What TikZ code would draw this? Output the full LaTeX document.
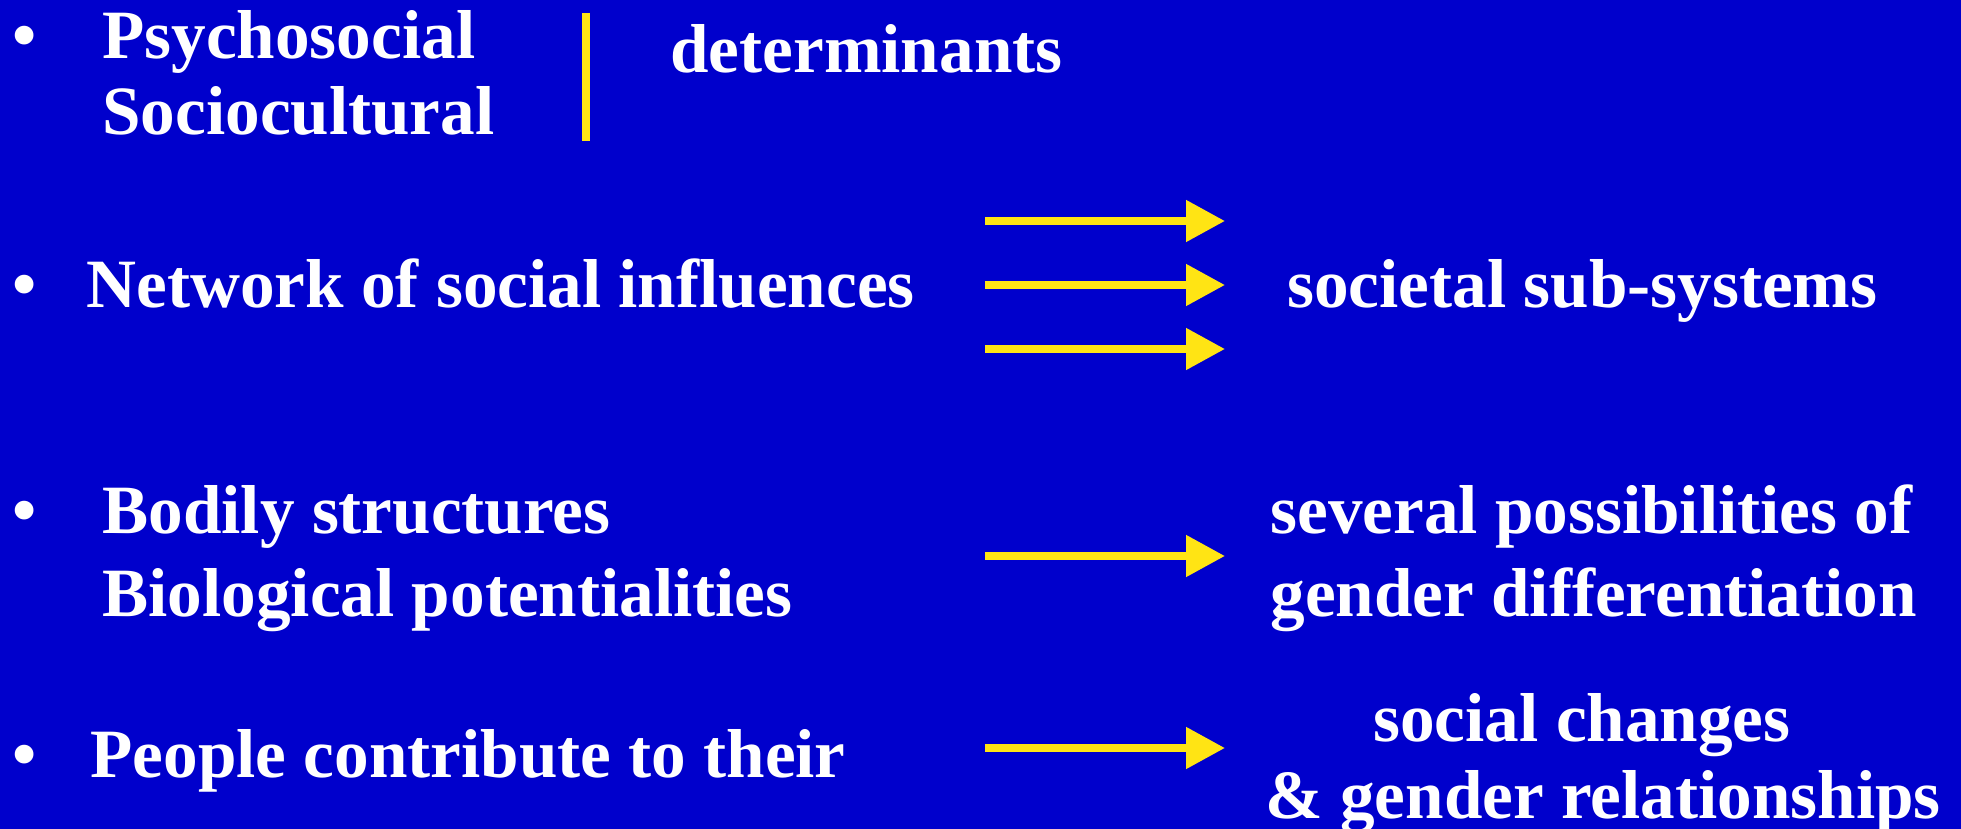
\documentclass[tikz,border=0pt]{standalone}
\usepackage{fontspec}
\setmainfont{Liberation Serif}
\usetikzlibrary{arrows.meta}

\definecolor{slideblue}{RGB}{0,0,204}
\definecolor{slideyellow}{RGB}{255,228,20}

\tikzset{
  txt/.style={text=white, font=\bfseries\fontsize{34.6}{39}\selectfont,
    inner sep=0pt, anchor=base west},
  bul/.style={txt},
  yarrow/.style={slideyellow, line width=4pt,
    -{Triangle[length=19.5pt,width=20pt]}}
}

\begin{document}
\begin{tikzpicture}[x=0.5pt,y=-0.5pt]
			% background
			\fill [slideblue] (0,0) rectangle (1961,829);
			\useasboundingbox (0,0) rectangle (1961,829);

			% bullets
			\node[bul] (b1) at (12,59) {•};
			\node[bul] (b2) at (12,307) {•};
			\node[bul] (b3) at (12,533) {•};
			\node[bul] (b4) at (12,777) {•};

			% first item
			\node[txt] (psycho) at (102,59) {Psychosocial};
			\node[txt] (socio) at (102,134) {Sociocultural};
			\draw [slideyellow, line width=4pt] (585.5,13) -- (585.5,141) ;
			\node[txt] (determ) at (670,73) {determinants};

			% second item
			\node[txt] (network) at (86,307) {Network of social influences};
			\node[txt] (subsys) at (1287,307) {societal sub-systems};

			% third item
			\node[txt] (bodily) at (102,533) {Bodily structures};
			\node[txt] (biolog) at (102,616) {Biological potentialities};
			\node[txt] (several) at (1270,533) {several possibilities of};
			\node[txt] (gendiff) at (1270,616) {gender differentiation};

			% fourth item
			\node[txt] (people) at (90,777) {People contribute to their};
			\node[txt] (changes) at (1373,741) {social changes};
			\node[txt] (relations) at (1265,818) {\& gender relationships};

			% ends of arrows
			\coordinate (a1s) at (985,221);  \coordinate (a1e) at (1225,221);
			\coordinate (a2s) at (985,285);  \coordinate (a2e) at (1225,285);
			\coordinate (a3s) at (985,349);  \coordinate (a3e) at (1225,349);
			\coordinate (a4s) at (985,556);  \coordinate (a4e) at (1225,556);
			\coordinate (a5s) at (985,748);  \coordinate (a5e) at (1225,748);

			% arrows
			\draw [yarrow] (a1s) -- (a1e) ;
			\draw [yarrow] (a2s) -- (a2e) ;
			\draw [yarrow] (a3s) -- (a3e) ;
			\draw [yarrow] (a4s) -- (a4e) ;
			\draw [yarrow] (a5s) -- (a5e) ;

		\end{tikzpicture}
\end{document}
